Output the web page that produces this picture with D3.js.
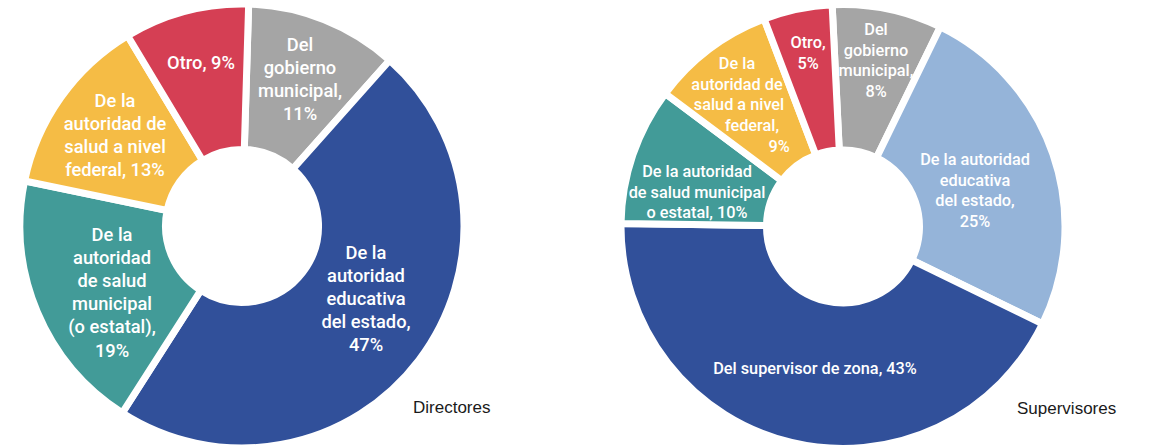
<!DOCTYPE html>
<html lang="es">
<head>
    <meta charset="UTF-8">
    <title>Directores y supervisores</title>
    <script src="https://d3js.org/d3.v7.min.js"></script>
    <style>
        body { margin: 0; background: #fff; }
        .slice { stroke: #fff; stroke-width: 7px; }
        .label {
            font-family: Roboto, "Noto Sans", sans-serif;
            font-weight: 500;
            fill: #fff;
            text-anchor: middle;
        }
        .title {
            font-family: "Liberation Sans", Arial, sans-serif;
            font-size: 17px;
            fill: #1a1a1a;
        }
    </style>
</head>
<body>
    <svg width="1150" height="446"></svg>

    <script>
        // data, clockwise from the top
        const dirCategories = [
            'Del gobierno municipal',
            'De la autoridad educativa del estado',
            'De la autoridad de salud municipal (o estatal)',
            'De la autoridad de salud a nivel federal',
            'Otro'
        ];
        const dirValues = [11, 47, 19, 13, 9];
        const dirColors = ['#a5a5a5', '#31509a', '#429b98', '#f5bc45', '#d53f54'];

        const supCategories = [
            'Del gobierno municipal',
            'De la autoridad educativa del estado',
            'Del supervisor de zona',
            'De la autoridad de salud municipal o estatal',
            'De la autoridad de salud a nivel federal',
            'Otro'
        ];
        const supValues = [8, 25, 43, 10, 9, 5];
        const supColors = ['#a5a5a5', '#95b4d9', '#31509a', '#429b98', '#f5bc45', '#d53f54'];

        // label placement: offset from the donut centre, words per line
        const dirLabelLayout = [
            { x: 58, y: -182, wrap: [1, 1, 1, 1] },
            { x: 124, y: 26, wrap: [2, 1, 1, 2, 1] },
            { x: -130, y: 8, wrap: [2, 1, 2, 1, 2, 1] },
            { x: -127, y: -126, wrap: [2, 2, 3, 2] },
            { x: -41, y: -164, wrap: [2] }
        ];
        const supLabelLayout = [
            { x: 33, y: -197.5, wrap: [1, 1, 1, 1] },
            { x: 132, y: -67.5, wrap: [3, 1, 2, 1] },
            { x: -28, y: 141.5, wrap: [5] },
            { x: -146, y: -55.5, wrap: [3, 3, 3] },
            { x: -106, y: -163.5, wrap: [2, 2, 3, 1, 1], dx: [0, 0, 2, 15, 42] },
            { x: -35, y: -184.5, wrap: [1, 1] }
        ];

        const svg = d3.select('svg');

        function wrapWords(text, wrap) {
            const words = text.split(' ');
            const lines = [];
            let k = 0;
            wrap.forEach(n => {
                lines.push(words.slice(k, k + n).join(' '));
                k += n;
            });
            return lines;
        }

        function drawDonut(opts) {
            const g = svg.append('g')
                .attr('transform', `translate(${opts.cx}, ${opts.cy})`);

            const pie = d3.pie()
                .sort(null)
                .value(d => d.value)
                .startAngle(opts.start)
                .endAngle(opts.start + 2 * Math.PI);

            const arc = d3.arc()
                .innerRadius(76.5)
                .outerRadius(222);

            const rows = opts.categories.map((c, i) => ({
                name: c, value: opts.values[i], color: opts.colors[i], layout: opts.layout[i]
            }));

            g.selectAll('.slice')
                .data(pie(rows))
                .enter()
                .append('path')
                .attr('class', 'slice')
                .attr('d', arc)
                .style('fill', d => d.data.color);

            const labels = g.selectAll('.label')
                .data(rows)
                .enter()
                .append('text')
                .attr('class', 'label')
                .style('font-size', opts.fontSize + 'px');

            labels.each(function (d) {
                const lines = wrapWords(`${d.name}, ${d.value}%`, d.layout.wrap);
                const t = d3.select(this);
                lines.forEach((line, i) => {
                    t.append('tspan')
                        .attr('x', d.layout.x + (d.layout.dx ? d.layout.dx[i] : 0))
                        .attr('y', d.layout.y + i * opts.lineHeight)
                        .attr('dy', '0.36em')
                        .text(line);
                });
            });

            svg.append('text')
                .attr('class', 'title')
                .attr('x', opts.titleX)
                .attr('y', opts.cy + 181)
                .attr('dy', '0.36em')
                .text(opts.title);
        }

        drawDonut({
            cx: 242, cy: 226, start: 0.03,
            categories: dirCategories, values: dirValues, colors: dirColors,
            layout: dirLabelLayout, fontSize: 18.3, lineHeight: 23.2,
            title: 'Directores', titleX: 413
        });

        drawDonut({
            cx: 843, cy: 226.5, start: -0.049,
            categories: supCategories, values: supValues, colors: supColors,
            layout: supLabelLayout, fontSize: 16.3, lineHeight: 20.7,
            title: 'Supervisores', titleX: 1017
        });
    </script>
</body>
</html>
